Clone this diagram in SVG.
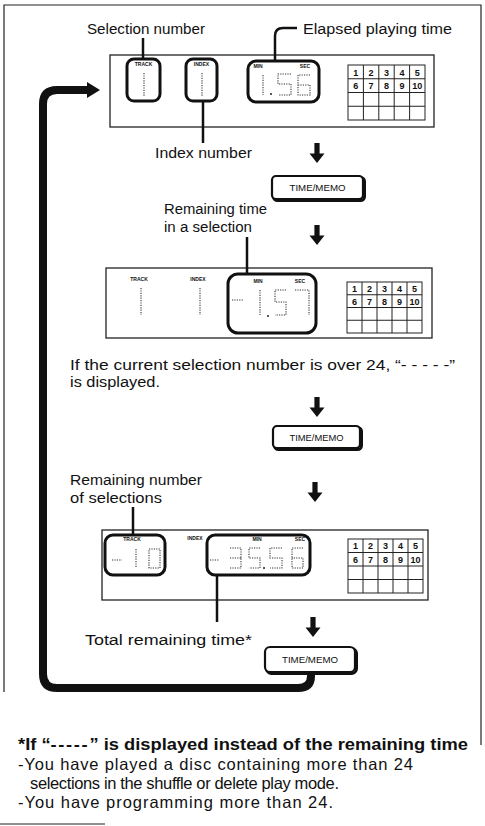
<svg xmlns="http://www.w3.org/2000/svg" width="485" height="826" viewBox="0 0 485 826">
<style>
text{font-family:"Liberation Sans",Arial,sans-serif;fill:#111}
.lbl{font-size:15.5px}
.foot{font-size:16.5px}
.bold{font-weight:bold}
.tiny{font-size:5px;font-weight:bold;text-anchor:middle}
.num{font-size:9px;font-weight:bold;text-anchor:middle}
.btxt{font-size:9px;text-anchor:middle}
.frame{fill:none;stroke:#222;stroke-width:1.2}
.disp{fill:#fff;stroke:#222;stroke-width:1.3}
.win{fill:none;stroke:#111;stroke-width:3}
.grid{fill:none;stroke:#222;stroke-width:1}
.seg{fill:none;stroke:#333;stroke-width:1.1;stroke-dasharray:1.2 1.2}
.lead{fill:none;stroke:#111;stroke-width:2.5}
.arrow{fill:#111}
.btn{fill:#fff;stroke:#111;stroke-width:2.2}
.btnsh{fill:none;stroke:#111;stroke-width:3}
.loop{fill:none;stroke:#111;stroke-width:8}
</style>
<defs>
<path id="darr" d="M-2.6 -20 H2.6 V-9.5 H7.5 L0 0 L-7.5 -9.5 H-2.6 Z"/>
</defs>

<g id="frame">
<path class="frame" d="M4 692 V5 H481 V745"/>
<line class="frame" x1="0" y1="824" x2="105" y2="824"/>
</g>

<g id="label-selection">
<text class="lbl" x="87" y="34" textLength="118" lengthAdjust="spacingAndGlyphs">Selection number</text>
</g>
<g id="label-elapsed">
<text class="lbl" x="303" y="34" textLength="149" lengthAdjust="spacingAndGlyphs">Elapsed playing time</text>
</g>

<g id="display1">
<rect class="disp" x="110" y="55" width="324" height="72"/>
<rect class="win" x="127" y="59" width="33" height="42" rx="7"/>
<text class="tiny" x="143.5" y="66">TRACK</text>
<line class="seg" x1="144" y1="73" x2="144" y2="97"/>
<rect class="win" x="186" y="59" width="31" height="42" rx="7"/>
<text class="tiny" x="201.5" y="66">INDEX</text>
<line class="seg" x1="202" y1="73" x2="202" y2="97"/>
<rect class="win" x="248" y="61" width="71" height="41" rx="8"/>
<text class="tiny" x="258" y="68">MIN</text>
<text class="tiny" x="305" y="68">SEC</text>
<line class="seg" x1="263" y1="75" x2="263" y2="95"/>
<circle cx="271" cy="94" r="1" fill="#222"/>
<path class="seg" d="M291 74 H278 V84 H291 V95 H278"/>
<path class="seg" d="M310 75 H298 V95 H310 V85 H298"/>
<g class="grid">
<rect x="348" y="65" width="77" height="55"/>
<path d="M363.4 65 V120 M378.8 65 V120 M394.2 65 V120 M409.6 65 V120 M348 78.75 H425 M348 92.5 H425 M348 106.25 H425"/>
</g>
<text class="num" x="355.7" y="75.5">1</text><text class="num" x="371.1" y="75.5">2</text><text class="num" x="386.5" y="75.5">3</text><text class="num" x="401.9" y="75.5">4</text><text class="num" x="417.3" y="75.5">5</text>
<text class="num" x="355.7" y="89.3">6</text><text class="num" x="371.1" y="89.3">7</text><text class="num" x="386.5" y="89.3">8</text><text class="num" x="401.9" y="89.3">9</text><text class="num" x="417.3" y="89.3">10</text>
</g>

<g id="label-index">
<text class="lbl" x="155" y="158" textLength="97" lengthAdjust="spacingAndGlyphs">Index number</text>
</g>

<g id="button1">
<rect class="btnsh" x="273.5" y="177.5" width="91" height="23" rx="4"/>
<rect class="btn" x="272" y="176" width="91" height="23" rx="4"/>
<text class="btxt" x="317.5" y="191" textLength="56" lengthAdjust="spacingAndGlyphs">TIME/MEMO</text>
</g>

<g id="label-remaining-time">
<text class="lbl" x="164" y="214" textLength="103" lengthAdjust="spacingAndGlyphs">Remaining time</text>
<text class="lbl" x="164" y="232" textLength="88" lengthAdjust="spacingAndGlyphs">in a selection</text>
</g>

<g id="display2">
<rect class="disp" x="106" y="268" width="326" height="70"/>
<text class="tiny" x="139" y="281">TRACK</text>
<line class="seg" x1="141" y1="288" x2="141" y2="315"/>
<text class="tiny" x="198" y="281">INDEX</text>
<line class="seg" x1="200" y1="288" x2="200" y2="315"/>
<rect class="win" x="228" y="274" width="88" height="59" rx="10"/>
<text class="tiny" x="258" y="283">MIN</text>
<text class="tiny" x="300" y="283">SEC</text>
<line class="seg" x1="232" y1="300" x2="243" y2="300"/>
<line class="seg" x1="260" y1="290" x2="260" y2="315"/>
<circle cx="268" cy="316" r="1" fill="#222"/>
<path class="seg" d="M286 290 H275 V302 H286 V315 H275"/>
<path class="seg" d="M295 290 H309 V315"/>
<g class="grid">
<rect x="347" y="282" width="75" height="51"/>
<path d="M362 282 V333 M377 282 V333 M392 282 V333 M407 282 V333 M347 294.75 H422 M347 307.5 H422 M347 320.25 H422"/>
</g>
<text class="num" x="354.5" y="291.8">1</text><text class="num" x="369.5" y="291.8">2</text><text class="num" x="384.5" y="291.8">3</text><text class="num" x="399.5" y="291.8">4</text><text class="num" x="414.5" y="291.8">5</text>
<text class="num" x="354.5" y="304.5">6</text><text class="num" x="369.5" y="304.5">7</text><text class="num" x="384.5" y="304.5">8</text><text class="num" x="399.5" y="304.5">9</text><text class="num" x="414.5" y="304.5">10</text>
</g>

<g id="note-over24">
<text class="lbl" x="70" y="370" textLength="385" lengthAdjust="spacingAndGlyphs">If the current selection number is over 24, “- - - - -”</text>
<text class="lbl" x="70" y="387" textLength="90" lengthAdjust="spacingAndGlyphs">is displayed.</text>
</g>

<g id="button2">
<rect class="btnsh" x="274.5" y="427.5" width="87" height="22" rx="4"/>
<rect class="btn" x="273" y="426" width="87" height="22" rx="4"/>
<text class="btxt" x="316.5" y="440.5" textLength="54" lengthAdjust="spacingAndGlyphs">TIME/MEMO</text>
</g>

<g id="label-remaining-number">
<text class="lbl" x="70" y="485" textLength="132" lengthAdjust="spacingAndGlyphs">Remaining number</text>
<text class="lbl" x="70" y="503" textLength="92" lengthAdjust="spacingAndGlyphs">of selections</text>
</g>

<g id="display3">
<rect class="disp" x="102" y="530" width="326" height="70"/>
<rect class="win" x="105" y="535" width="60" height="40" rx="8"/>
<text class="tiny" x="132" y="541">TRACK</text>
<line class="seg" x1="112" y1="560" x2="122" y2="560"/>
<line class="seg" x1="136" y1="549" x2="136" y2="568"/>
<rect class="seg" x="149" y="549" width="11" height="19"/>
<text class="tiny" x="195" y="540">INDEX</text>
<rect class="win" x="207" y="535" width="103" height="40" rx="8"/>
<text class="tiny" x="257" y="541">MIN</text>
<text class="tiny" x="300" y="541">SEC</text>
<line class="seg" x1="210" y1="560" x2="219" y2="560"/>
<path class="seg" d="M230 548 H241 V568 H230 M230 558 H241"/>
<path class="seg" d="M260 548 H249 V558 H260 V568 H249"/>
<circle cx="264" cy="568" r="1" fill="#222"/>
<path class="seg" d="M282 548 H270 V558 H282 V568 H270"/>
<path class="seg" d="M303 548 H292 V568 H303 V558 H292"/>
<g class="grid">
<rect x="348" y="539" width="75" height="54"/>
<path d="M363 539 V593 M378 539 V593 M393 539 V593 M408 539 V593 M348 552.5 H423 M348 566 H423 M348 579.5 H423"/>
</g>
<text class="num" x="355.5" y="549.3">1</text><text class="num" x="370.5" y="549.3">2</text><text class="num" x="385.5" y="549.3">3</text><text class="num" x="400.5" y="549.3">4</text><text class="num" x="415.5" y="549.3">5</text>
<text class="num" x="355.5" y="562.8">6</text><text class="num" x="370.5" y="562.8">7</text><text class="num" x="385.5" y="562.8">8</text><text class="num" x="400.5" y="562.8">9</text><text class="num" x="415.5" y="562.8">10</text>
</g>

<g id="label-total">
<text class="lbl" x="85" y="645" textLength="167" lengthAdjust="spacingAndGlyphs">Total remaining time*</text>
</g>

<g id="button3">
<rect class="btnsh" x="266.5" y="648.5" width="90" height="25" rx="5"/>
<rect class="btn" x="265" y="647" width="90" height="25" rx="5"/>
<text class="btxt" x="310" y="663" textLength="56" lengthAdjust="spacingAndGlyphs">TIME/MEMO</text>
</g>

<g id="connectors">
<line class="lead" x1="143" y1="38" x2="143" y2="59"/>
<path class="lead" d="M297 28 H283 Q275 28 275 36 V61"/>
<line class="lead" x1="203" y1="101" x2="203" y2="143"/>
<line class="lead" x1="247" y1="237" x2="247" y2="274"/>
<line class="lead" x1="133" y1="507" x2="133" y2="535"/>
<line class="lead" x1="217" y1="575" x2="217" y2="622"/>
<use href="#darr" class="arrow" x="317" y="163"/>
<use href="#darr" class="arrow" x="317" y="245"/>
<use href="#darr" class="arrow" x="317" y="417"/>
<use href="#darr" class="arrow" x="315" y="502"/>
<use href="#darr" class="arrow" x="313" y="637"/>
<path class="loop" d="M311 672 V676 Q311 688 298 688 H57 Q43 688 43 674 V104 Q43 90 57 90 H90"/>
<polygon class="arrow" points="87,82 100,90 87,98"/>
</g>

<g id="footnote">
<text class="foot bold" x="18" y="750" textLength="450" lengthAdjust="spacingAndGlyphs">*If “<tspan letter-spacing="1.5">-----</tspan>” is displayed instead of the remaining time</text>
<text class="foot" x="18" y="770" textLength="395" lengthAdjust="spacing">-You have played a disc containing more than 24</text>
<text class="foot" x="30" y="789" textLength="309" lengthAdjust="spacing">selections in the shuffle or delete play mode.</text>
<text class="foot" x="18" y="808" textLength="315" lengthAdjust="spacing">-You have programming more than 24.</text>
</g>
</svg>
